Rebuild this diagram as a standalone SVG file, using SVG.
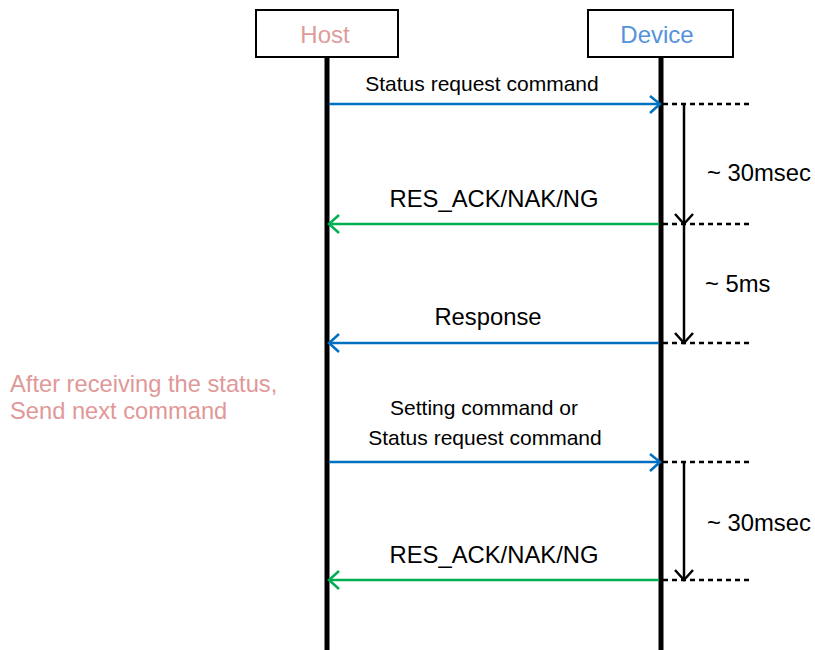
<svg xmlns="http://www.w3.org/2000/svg" width="815" height="650" viewBox="0 0 815 650">
<defs>
<style>
text{font-family:"Liberation Sans",Arial,sans-serif;}
.box{fill:#fff;stroke:#000;stroke-width:2;}
.life{stroke:#000;stroke-width:5;}
.blue{stroke:#0070C0;stroke-width:2.5;fill:none;}
.green{stroke:#00B050;stroke-width:2.5;fill:none;}
.dash{stroke:#000;stroke-width:2.5;stroke-dasharray:5 4;fill:none;}
.vert{stroke:#000;stroke-width:2.5;fill:none;}
.lbl{font-size:21px;fill:#000;text-anchor:middle;}
.lbl2{font-size:23.8px;fill:#000;text-anchor:middle;}
.time{font-size:23.8px;fill:#000;}
</style>
</defs>
<rect width="815" height="650" fill="#fff"/>
<g id="host">
<rect class="box" x="256" y="10" width="142" height="47"/>
<text x="325" y="43" font-size="24" fill="#DC9C9B" text-anchor="middle">Host</text>
<line class="life" x1="327" y1="57" x2="327" y2="650"/>
</g>
<g id="device">
<rect class="box" x="588" y="10" width="145" height="47"/>
<text x="657" y="43" font-size="24" fill="#5592DB" text-anchor="middle">Device</text>
<line class="life" x1="661" y1="57" x2="661" y2="650"/>
</g>
<g id="connectors">
<line class="blue" x1="329" y1="104" x2="659" y2="104"/>
<polyline class="blue" points="650,96 660,104 650,113"/>
<line class="green" x1="659" y1="224" x2="329" y2="224"/>
<polyline class="green" points="339,215 329,224 339,233"/>
<line class="blue" x1="659" y1="343" x2="329" y2="343"/>
<polyline class="blue" points="339,334 329,343 339,352"/>
<line class="blue" x1="329" y1="462" x2="659" y2="462"/>
<polyline class="blue" points="650,454 660,462 650,471"/>
<line class="green" x1="659" y1="580" x2="329" y2="580"/>
<polyline class="green" points="339,571 329,580 339,589"/>
<line class="dash" x1="663" y1="104" x2="750" y2="104"/>
<line class="dash" x1="663" y1="224" x2="750" y2="224"/>
<line class="dash" x1="663" y1="343" x2="750" y2="343"/>
<line class="dash" x1="663" y1="462" x2="750" y2="462"/>
<line class="dash" x1="663" y1="580" x2="750" y2="580"/>
<line class="vert" x1="684" y1="104" x2="684" y2="223"/>
<polyline class="vert" points="675,214 684,224 693,214"/>
<line class="vert" x1="684" y1="224" x2="684" y2="342"/>
<polyline class="vert" points="675,333 684,343 693,333"/>
<line class="vert" x1="684" y1="462" x2="684" y2="579"/>
<polyline class="vert" points="675,570 684,580 693,570"/>
</g>
<g id="labels">
<text class="lbl" x="482" y="91">Status request command</text>
<text class="lbl2" x="494" y="207">RES_ACK/NAK/NG</text>
<text class="lbl2" x="488" y="325">Response</text>
<text class="lbl" x="484" y="415">Setting command or</text>
<text class="lbl" x="485" y="445">Status request command</text>
<text class="lbl2" x="494" y="563">RES_ACK/NAK/NG</text>
<text class="time" x="707" y="181">~ 30msec</text>
<text class="time" x="705" y="292">~ 5ms</text>
<text class="time" x="707" y="531">~ 30msec</text>
<text x="10" y="392" font-size="23.7" fill="#E09898">After receiving the status,</text>
<text x="10" y="419" font-size="23.7" fill="#E09898">Send next command</text>
</g>
</svg>
